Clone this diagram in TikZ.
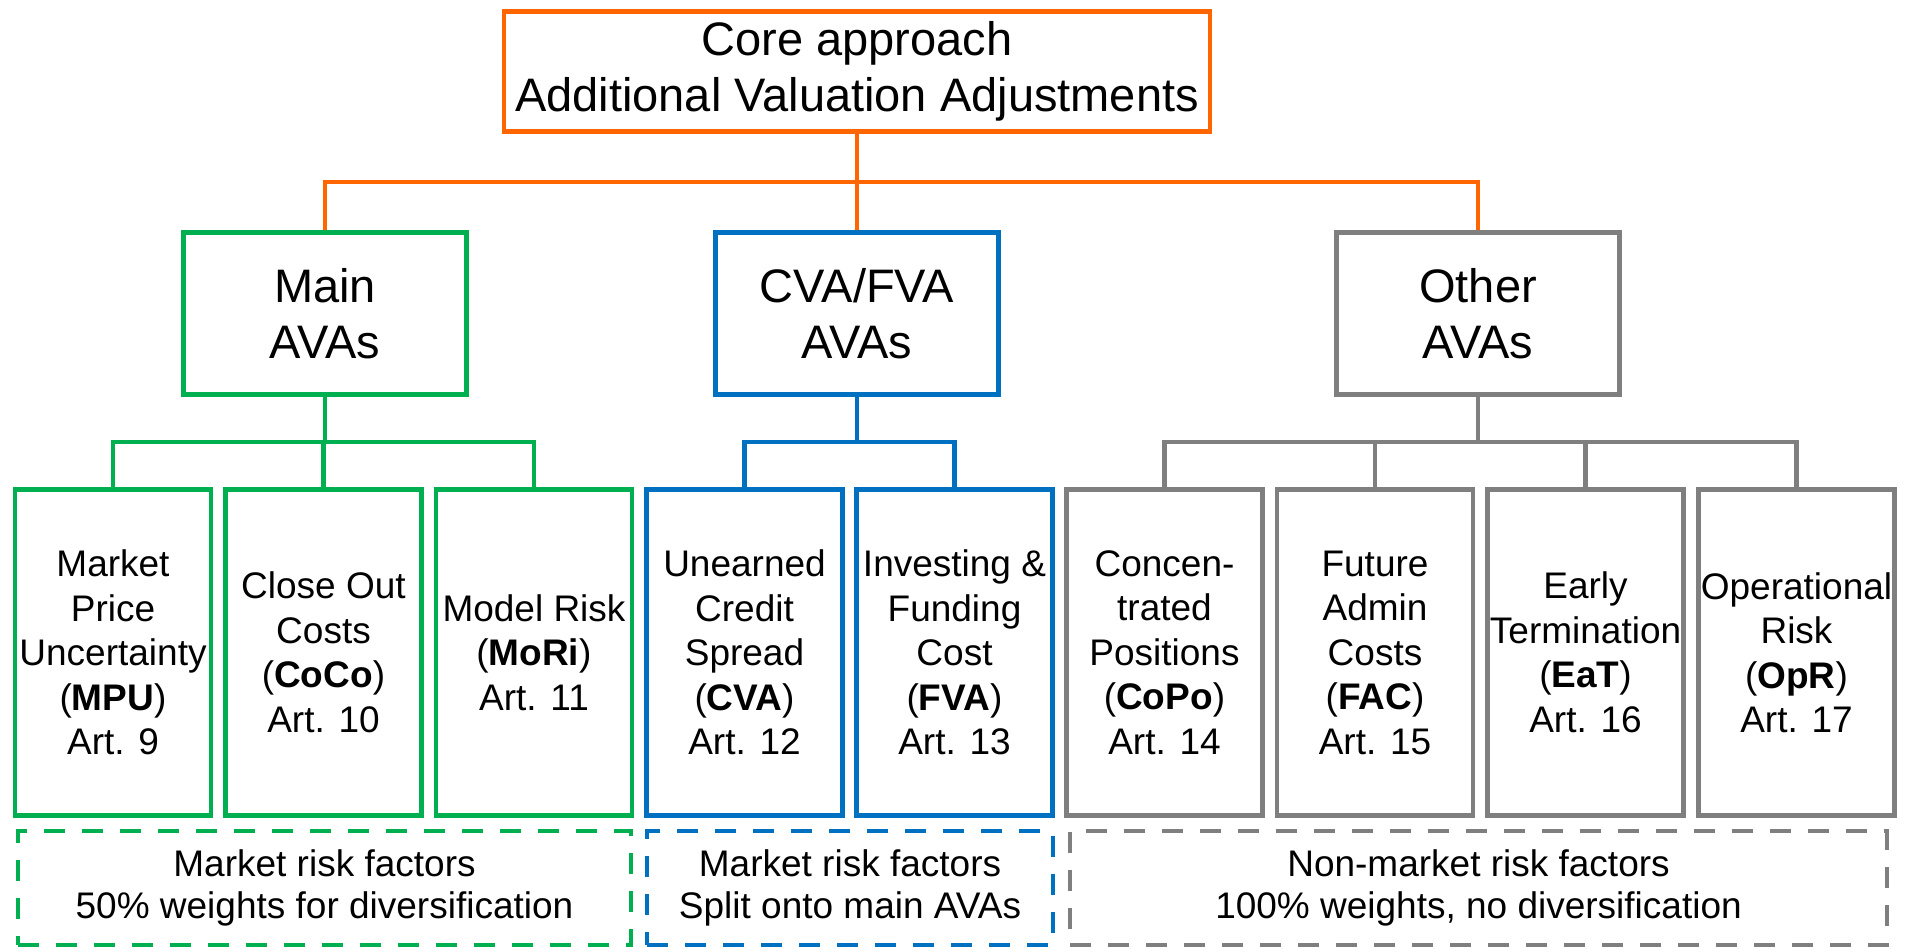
\documentclass[tikz,border=0pt]{standalone}
\usepackage{fontspec}
\setmainfont{Liberation Sans}
\definecolor{corange}{RGB}{255,102,0}
\definecolor{cgreen}{RGB}{0,176,80}
\definecolor{cblue}{RGB}{0,112,192}
\definecolor{cgray}{RGB}{127,127,127}
\tikzset{
  box/.style={draw, rectangle, line width=4.5pt, inner sep=0pt, align=center},
  bigtxt/.style={font=\fontsize{47}{56}\selectfont},
  leaftxt/.style={font=\fontsize{37}{44.5}\selectfont},
  dashtxt/.style={font=\fontsize{37}{42}\selectfont},
  topbox/.style={box, bigtxt, draw=corange, minimum width=706pt, minimum height=120pt},
  midbox/.style={box, bigtxt, minimum width=283pt, minimum height=162pt},
  leafbox/.style={box, leaftxt, minimum width=196pt, minimum height=326pt},
  dashbox/.style={box, dashtxt, line width=4.2pt, dash pattern=on 21pt off 17pt, minimum height=114pt},
  conn/.style={line width=4.5pt},
}
\begin{document}
\begin{tikzpicture}[x=1pt,y=-1pt]
\useasboundingbox (0,0) rectangle (1908,951);
% top
\node[topbox] (top) at (857,71.5) {Core approach\\Additional Valuation Adjustments};
% middle
\node[midbox, draw=cgreen] (main) at (325,313.5) {Main\\AVAs};
\node[midbox, draw=cblue] (cvafva) at (857,313.5) {CVA/FVA\\AVAs};
\node[midbox, draw=cgray] (other) at (1478,313.5) {Other\\AVAs};
% leaves
\node[leafbox, draw=cgreen] (l1) at (113,652.5) {Market\\Price\\Uncertainty\\(\textbf{MPU})\\Art. 9};
\node[leafbox, draw=cgreen] (l2) at (323.5,652.5) {Close Out\\Costs\\(\textbf{CoCo})\\Art. 10};
\node[leafbox, draw=cgreen] (l3) at (534,652.5) {Model Risk\\(\textbf{MoRi})\\Art. 11};
\node[leafbox, draw=cblue] (l4) at (744.5,652.5) {Unearned\\Credit\\Spread\\(\textbf{CVA})\\Art. 12};
\node[leafbox, draw=cblue] (l5) at (954.5,652.5) {Investing \&\\Funding\\Cost\\(\textbf{FVA})\\Art. 13};
\node[leafbox, draw=cgray] (l6) at (1164.5,652.5) {Concen-\\trated\\Positions\\(\textbf{CoPo})\\Art. 14};
\node[leafbox, draw=cgray] (l7) at (1375,652.5) {Future\\Admin\\Costs\\(\textbf{FAC})\\Art. 15};
\node[leafbox, draw=cgray] (l8) at (1585.5,652.5) {Early\\Termination\\(\textbf{EaT})\\Art. 16};
\node[leafbox, draw=cgray] (l9) at (1796.5,652.5) {Operational\\Risk\\(\textbf{OpR})\\Art. 17};
% dashed summary boxes
\node[dashbox, draw=cgreen, minimum width=612.5pt] (d1) at (324.5,888) {Market risk factors\\50\% weights for diversification};
\node[dashbox, draw=cblue, minimum width=405.5pt] (d2) at (850,888) {Market risk factors\\Split onto main AVAs};
\node[dashbox, draw=cgray, minimum width=816.5pt] (d3) at (1478.5,888) {Non-market risk factors\\100\% weights, no diversification};
% bus coordinates
\coordinate (obus) at (857,182);
\coordinate (gbus) at (325,442);
\coordinate (bbus) at (857,442);
\coordinate (ybus) at (1478,442);
% orange connectors
\draw[conn, corange] (top.south) -- (cvafva.north);
\draw[conn, corange] (main.north) |- (obus) -| (other.north);
% green
\draw[conn, cgreen] (main.south) -- (gbus);
\draw[conn, cgreen] (l1.north) |- (gbus) -| (l3.north);
\draw[conn, cgreen] (l2.north) |- (gbus);
% blue
\draw[conn, cblue] (cvafva.south) -- (bbus);
\draw[conn, cblue] (l4.north) |- (bbus) -| (l5.north);
% gray
\draw[conn, cgray] (other.south) -- (ybus);
\draw[conn, cgray] (l6.north) |- (ybus) -| (l9.north);
\draw[conn, cgray] (l7.north) |- (ybus);
\draw[conn, cgray] (l8.north) |- (ybus);
\end{tikzpicture}
\end{document}
